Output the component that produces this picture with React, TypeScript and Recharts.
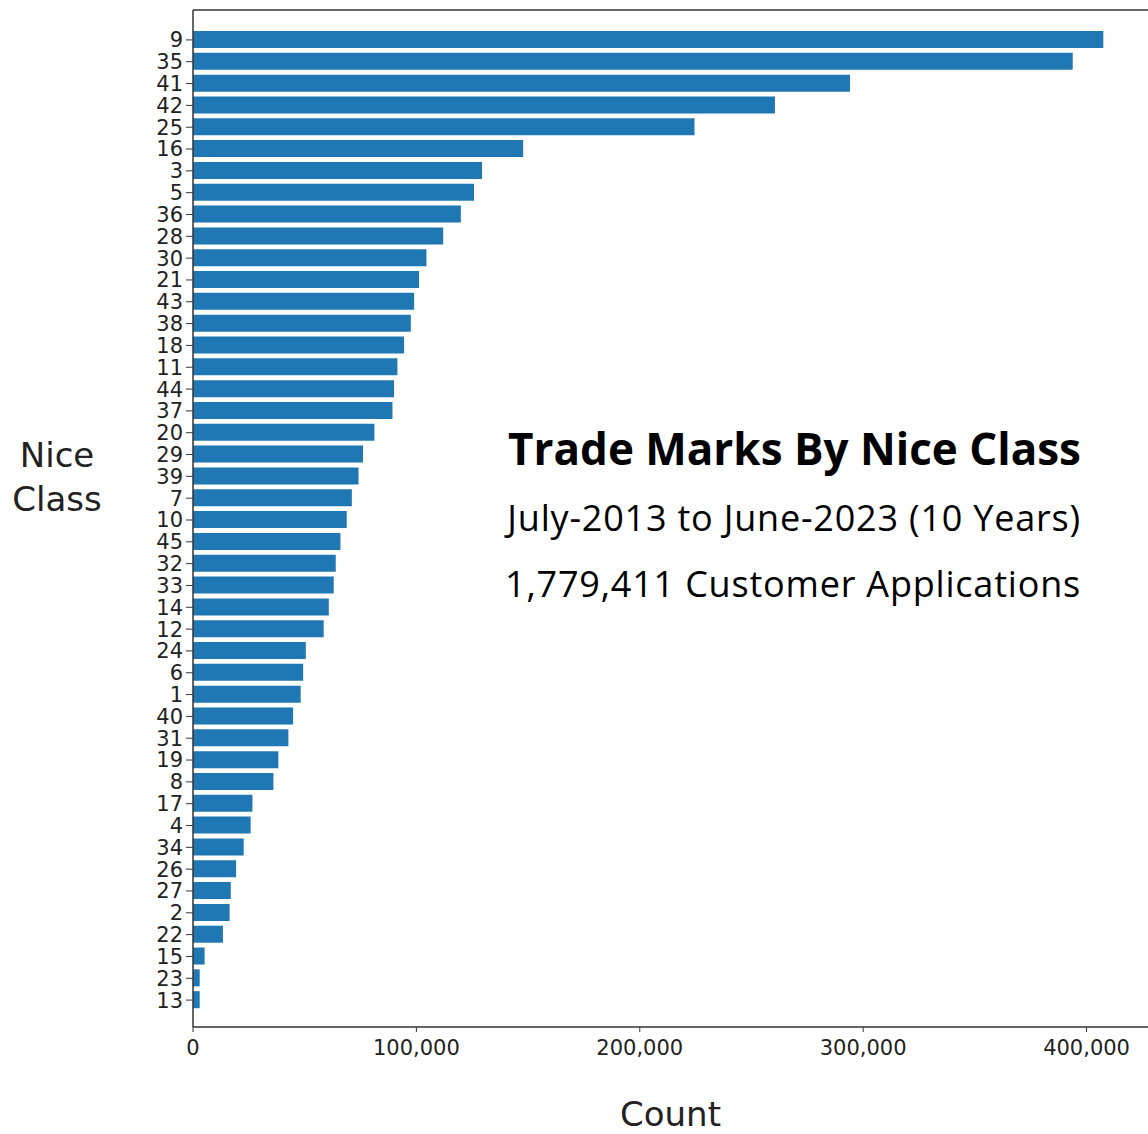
import React from 'react';
import { BarChart, Bar, XAxis, YAxis, Label } from 'recharts';

// Nice classes, ordered as in the chart (largest at top)
const niceClasses = [
  '9', '35', '41', '42', '25', '16', '3', '5', '36', '28',
  '30', '21', '43', '38', '18', '11', '44', '37', '20', '29',
  '39', '7', '10', '45', '32', '33', '14', '12', '24', '6',
  '1', '40', '31', '19', '8', '17', '4', '34', '26', '27',
  '2', '22', '15', '23', '13'
];

const applicationCounts = [
  407500, 393800, 294100, 260500, 224500, 147800, 129400, 125800, 119900, 112000,
  104500, 101200, 99000, 97500, 94500, 91500, 90000, 89300, 81200, 76100,
  74100, 71100, 68800, 66000, 63900, 63000, 60800, 58500, 50500, 49300,
  48200, 44800, 42700, 38200, 36000, 26600, 25800, 22700, 19300, 16900,
  16400, 13400, 5200, 3000, 3000
];

const countTicks = [0, 100000, 200000, 300000, 400000];

const chartTitle = 'Trade Marks By Nice Class';
const titleLines = [
  'July-2013 to June-2023 (10 Years)',
  '1,779,411 Customer Applications'
];

const data = niceClasses.map((cls, i) => ({ cls, count: applicationCounts[i] }));

const axisColor = '#333';
const tickFont = { fontFamily: 'DejaVu Sans', fontSize: 21, fill: '#222' };

const textBlock: React.CSSProperties = {
  position: 'absolute',
  right: 67,
  textAlign: 'right',
  whiteSpace: 'nowrap',
  fontFamily: '"Open Sans", sans-serif',
  color: '#000'
};

export default function App() {
  return (
    <div style={{ position: 'absolute', left: 0, top: 0, width: 1148, height: 1134, background: '#fff' }}>
      <BarChart
        width={1148}
        height={1134}
        data={data}
        layout="vertical"
        margin={{ top: 9, right: 0, bottom: 0, left: 0 }}
      >
        <XAxis
          type="number"
          domain={[0, 427500]}
          ticks={countTicks}
          tickFormatter={(v: number) => v.toLocaleString('en-US')}
          height={107}
          tickSize={5}
          tickMargin={8}
          tick={tickFont}
          axisLine={{ stroke: axisColor, strokeWidth: 1.5 }}
          tickLine={{ stroke: axisColor }}
        >
          <Label
            value="Count"
            position="insideBottom"
            offset={8}
            style={{ fontFamily: 'DejaVu Sans', fontSize: 34, fill: '#222' }}
          />
        </XAxis>
        <XAxis
          xAxisId="top"
          orientation="top"
          type="number"
          domain={[0, 427500]}
          height={1}
          tick={false}
          tickLine={false}
          axisLine={{ stroke: axisColor, strokeWidth: 1.5 }}
        />
        <YAxis
          type="category"
          dataKey="cls"
          width={193}
          interval={0}
          padding={{ top: 19, bottom: 16 }}
          tickSize={7}
          tickMargin={3}
          tick={tickFont}
          axisLine={{ stroke: axisColor, strokeWidth: 1.5 }}
          tickLine={{ stroke: axisColor }}
        />
        <Bar dataKey="count" fill="#1f77b4" barSize={17} isAnimationActive={false} />
      </BarChart>

      <div
        style={{
          position: 'absolute',
          left: 0,
          top: 433,
          width: 114,
          textAlign: 'center',
          fontFamily: 'DejaVu Sans',
          fontSize: 34,
          lineHeight: '44px',
          color: '#222'
        }}
      >
        Nice
        <br />
        Class
      </div>

      <div style={{ ...textBlock, top: 426, fontSize: 44, lineHeight: '44px', fontWeight: 700 }}>
        {chartTitle}
      </div>
      {titleLines.map((t, i) => (
        <div
          key={t}
          style={{ ...textBlock, top: 500 + i * 66, fontSize: 36, lineHeight: '36px', letterSpacing: 0.8 }}
        >
          {t}
        </div>
      ))}
    </div>
  );
}
